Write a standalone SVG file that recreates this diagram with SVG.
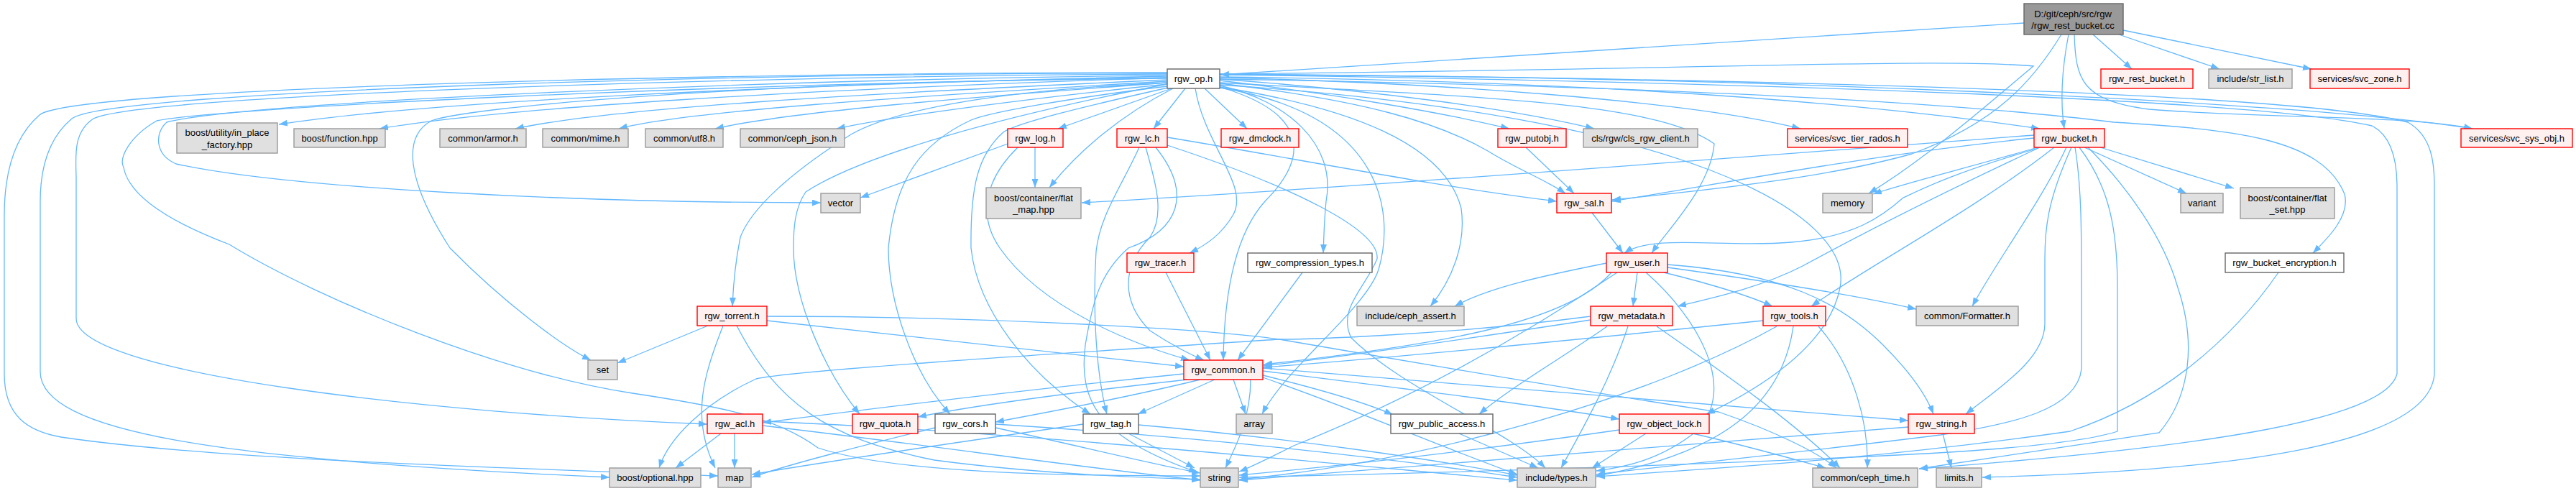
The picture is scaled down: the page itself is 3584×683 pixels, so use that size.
<svg xmlns="http://www.w3.org/2000/svg" width="3584" height="683" viewBox="0 0 3584 683">
<style>
.n rect{stroke-width:1.4}
.g rect{fill:#E0E0E0;stroke:#999999}
.r rect{fill:#FFF0F0;stroke:#FF0000}
.w rect{fill:#FFFFFF;stroke:#666666}
.k rect{fill:#999999;stroke:#666666}
text{font-family:"Liberation Sans",Arial,sans-serif;font-size:13px;text-anchor:middle;fill:#000}
.e path{fill:none;stroke:#63B8FF;stroke-width:1.3;marker-end:url(#a)}
</style>
<defs>
<marker id="a" viewBox="0 0 12 9" refX="12" refY="4.5" markerWidth="12" markerHeight="9" markerUnits="userSpaceOnUse" orient="auto"><path d="M0,0L12,4.5L0,9z" fill="#63B8FF"/></marker>
</defs>
<rect width="3584" height="683" fill="#FFFFFF"/>
<g id="connectors" class="e">
<path d="M2816,32L1698,104"/>
<path d="M2878,48C2868,100 2866,140 2872,179"/>
<path d="M2912,48L2966,96"/>
<path d="M2948,48L3088,96"/>
<path d="M2954,42L3216,96"/>
<path d="M2868,48C2830,110 2780,170 2660,214C2550,245 2400,262 2243,278"/>
<path d="M2886,48C2888,110 2895,140 2990,152C3150,165 3350,160 3440,179"/>
<path d="M1624,106C1100,118 600,140 388,173"/>
<path d="M1624,108C1100,125 700,150 528,179"/>
<path d="M1624,111C1200,130 850,150 717,179"/>
<path d="M1624,113C1250,135 950,155 861,179"/>
<path d="M1624,115C1350,135 1100,155 995,179"/>
<path d="M1624,117C1450,135 1250,160 1164,179"/>
<path d="M1630,123L1472,179"/>
<path d="M1649,123L1605,179"/>
<path d="M1676,123L1735,179"/>
<path d="M1697,112C1850,130 2000,155 2100,179"/>
<path d="M1697,110C1900,125 2100,150 2218,179"/>
<path d="M1697,108C2000,115 2350,140 2505,179"/>
<path d="M1697,107C2100,112 2500,130 2838,179"/>
<path d="M1697,104C2400,105 3200,140 3440,179"/>
<path d="M1624,105C1100,110 350,140 232,170C215,185 215,215 245,228C400,262 800,282 1142,282"/>
<path d="M1632,123C1560,160 1500,210 1460,261"/>
<path d="M1697,116C1900,140 2000,170 2070,210C2110,235 2150,250 2178,269"/>
<path d="M1697,103C2300,98 2700,80 2829,92C2760,150 2680,220 2600,269"/>
<path d="M1663,123C1675,200 1740,260 1715,300C1700,325 1680,340 1655,352"/>
<path d="M1697,119C1790,140 1860,200 1845,280C1842,310 1842,330 1841,352"/>
<path d="M1697,115C2050,135 2300,140 2385,200C2380,260 2320,320 2298,352"/>
<path d="M1697,110C2300,120 2700,140 2941,170C3100,180 3230,190 3262,270C3270,300 3240,330 3218,352"/>
<path d="M1624,115C1400,125 1250,150 1184,187C1100,240 1045,290 1030,330C1022,370 1020,400 1019,426"/>
<path d="M1624,108C1000,115 650,150 600,168C560,190 565,250 626,345C700,420 780,480 822,501"/>
<path d="M1697,121C1880,150 2010,200 2033,290C2040,340 2020,390 1990,426"/>
<path d="M1697,121C1830,160 1815,225 1760,280C1715,330 1703,420 1702,501"/>
<path d="M1624,103C1100,105 200,130 130,165C100,185 106,220 106,250L106,443C106,520 600,575 984,590"/>
<path d="M1624,117C1400,160 1200,215 1121,267C1105,290 1104,320 1104,345C1104,420 1150,520 1196,576"/>
<path d="M1624,120C1500,135 1380,155 1351,167C1280,200 1245,250 1236,345C1236,420 1270,520 1322,576"/>
<path d="M1625,122C1500,150 1420,170 1397,183C1360,215 1350,260 1351,345C1360,430 1430,520 1517,576"/>
<path d="M1697,122C1930,160 1940,300 1918,375C1900,430 1790,510 1756,576"/>
<path d="M1697,118C2350,160 2580,300 2560,400C2545,480 2450,540 2374,576"/>
<path d="M1624,102C1100,100 150,125 100,165C70,190 56,230 56,280L56,517C56,600 300,640 848,664"/>
<path d="M1624,101C1100,100 100,120 55,160C20,190 6,240 6,300L6,520C6,580 40,600 85,608C300,640 700,650 999,662"/>
<path d="M1624,109C1000,115 300,150 218,168C180,190 165,220 172,233C180,275 240,310 319,340C450,420 700,520 880,547C1000,565 1080,580 1138,623C1250,660 1500,662 1670,662"/>
<path d="M1697,103C2500,110 3200,130 3350,170C3385,190 3387,230 3387,260L3387,520C3380,620 3100,655 2758,664"/>
<path d="M1697,104C2500,115 3150,140 3300,175C3330,190 3335,230 3335,260L3335,520C3320,580 3100,620 2670,652"/>
<path d="M2830,192C2600,215 2400,255 2243,280"/>
<path d="M2830,188C2400,220 1900,260 1505,282"/>
<path d="M2835,205C2750,230 2650,255 2606,270"/>
<path d="M2900,205L3042,269"/>
<path d="M2922,205L3108,262"/>
<path d="M2836,206C2720,240 2680,260 2648,275C2620,300 2580,330 2492,337C2400,345 2300,325 2260,352"/>
<path d="M2838,205C2720,260 2600,320 2508,370C2450,400 2380,415 2334,426"/>
<path d="M2858,205C2750,290 2600,370 2520,426"/>
<path d="M2875,205C2840,280 2780,360 2744,426"/>
<path d="M2882,205C2848,280 2845,320 2845,360L2845,450C2845,500 2780,540 2735,576"/>
<path d="M2887,205C2896,260 2896,320 2896,400L2896,513C2890,570 2800,590 2700,605C2500,630 2300,650 2221,660"/>
<path d="M2893,205C2935,260 2946,320 2946,400L2946,600C2900,615 2800,625 2640,633C2300,650 1900,660 1724,664"/>
<path d="M2905,205C2960,260 3010,330 3030,400C3060,490 3040,560 3004,602L2670,652"/>
<path d="M2235,366C2150,383 2070,400 2024,426"/>
<path d="M2278,379L2272,426"/>
<path d="M2315,379C2380,395 2430,410 2466,426"/>
<path d="M2320,372C2450,390 2580,410 2666,430"/>
<path d="M2242,379C2180,450 2000,480 1758,507"/>
<path d="M2290,379C2360,440 2420,540 2360,600C2310,640 2260,650 2221,655"/>
<path d="M2250,379C2100,480 1950,560 1800,620C1760,640 1740,650 1724,656"/>
<path d="M2320,368C2480,380 2560,420 2620,480C2660,520 2680,550 2690,576"/>
<path d="M2213,445C2050,470 1900,492 1758,509"/>
<path d="M2265,454C2240,530 2200,600 2172,651"/>
<path d="M2305,454C2400,520 2500,590 2560,651"/>
<path d="M2213,440C2000,468 1800,472 1780,472C1500,490 1100,515 1052,527C980,560 930,610 917,651"/>
<path d="M2236,454C2170,500 2100,540 2058,576"/>
<path d="M2453,446C2200,472 1950,497 1758,511"/>
<path d="M2495,454C2480,560 2400,630 2221,662"/>
<path d="M2472,454C2300,550 2000,640 1724,667"/>
<path d="M2530,454C2580,510 2600,590 2598,651"/>
<path d="M1647,520C1400,545 1200,570 1061,588"/>
<path d="M1652,528C1500,545 1350,565 1277,580"/>
<path d="M1670,528C1580,550 1450,575 1385,587"/>
<path d="M1690,528L1583,576"/>
<path d="M1716,528L1733,576"/>
<path d="M1757,522C1830,540 1900,560 1938,577"/>
<path d="M1757,516C1950,540 2150,565 2253,583"/>
<path d="M1757,512C2100,540 2450,570 2655,585"/>
<path d="M1757,525C1900,575 2000,620 2111,660"/>
<path d="M1740,528C1740,580 1720,620 1705,651"/>
<path d="M1022,603L1022,651"/>
<path d="M1003,603L940,651"/>
<path d="M1061,592C1300,620 1500,650 1670,668"/>
<path d="M1061,586C1400,600 1800,640 2111,668"/>
<path d="M1301,595C1200,620 1100,645 1046,664"/>
<path d="M1385,595C1500,620 1600,645 1670,658"/>
<path d="M1385,590C1700,610 1950,640 2111,664"/>
<path d="M1507,590C1300,620 1100,650 1046,660"/>
<path d="M1570,603L1662,651"/>
<path d="M1584,591C1800,610 2000,640 2111,661"/>
<path d="M1067,446C1300,470 1500,495 1647,510"/>
<path d="M985,453L859,505"/>
<path d="M1006,453C980,520 960,580 995,651"/>
<path d="M1025,453C1080,560 1150,610 1300,640C1450,660 1600,665 1670,667"/>
<path d="M1067,440C1400,440 1700,460 1780,472C2000,510 2300,560 2391,573C2470,600 2530,630 2555,651"/>
<path d="M1402,200L1197,275"/>
<path d="M1440,205L1440,261"/>
<path d="M1416,205C1370,250 1360,300 1391,345C1450,430 1580,480 1655,501"/>
<path d="M1624,191C1800,220 2000,260 2166,280"/>
<path d="M1594,205C1610,260 1620,300 1600,330C1560,370 1560,420 1600,460C1630,480 1660,495 1675,501"/>
<path d="M1585,205C1560,260 1530,300 1525,350C1520,430 1525,520 1540,576"/>
<path d="M1608,205C1660,270 1640,320 1570,345C1530,380 1520,420 1510,480C1500,560 1530,610 1666,657"/>
<path d="M1624,202C1800,260 1920,320 1916,360C1900,400 1860,430 1880,470C1950,540 2100,600 2150,651"/>
<path d="M2123,205L2190,269"/>
<path d="M2215,296L2258,352"/>
<path d="M1622,379L1684,501"/>
<path d="M1812,379L1722,501"/>
<path d="M2030,603L2140,651"/>
<path d="M2253,598C2100,620 1900,645 1724,661"/>
<path d="M2355,603C2430,620 2500,640 2540,651"/>
<path d="M2290,603L2215,651"/>
<path d="M2703,603L2715,651"/>
<path d="M2655,594C2300,620 1950,650 1724,668"/>
<path d="M3170,379C3100,480 3000,560 2880,600C2600,640 2400,650 2221,663"/>
</g>
<g id="root" class="n k"><rect x="2816" y="5" width="138" height="43"/><text x="2884" y="24">D:/git/ceph/src/rgw</text><text x="2884" y="40">/rgw_rest_bucket.cc</text></g>
<g id="rgw_op" class="n w"><rect x="1624" y="96" width="73" height="27"/><text x="1660.5" y="114">rgw_op.h</text></g>
<g id="rgw_rest_bucket_h" class="n r"><rect x="2923" y="96" width="128" height="27"/><text x="2987" y="114">rgw_rest_bucket.h</text></g>
<g id="str_list" class="n g"><rect x="3073" y="96" width="116" height="27"/><text x="3131" y="114">include/str_list.h</text></g>
<g id="svc_zone" class="n r"><rect x="3214" y="96" width="138" height="27"/><text x="3283" y="114">services/svc_zone.h</text></g>
<g id="in_place_factory" class="n g"><rect x="246" y="171" width="140" height="42"/><text x="316" y="189">boost/utility/in_place</text><text x="316" y="206">_factory.hpp</text></g>
<g id="function" class="n g"><rect x="409" y="179" width="127" height="26"/><text x="472.5" y="197">boost/function.hpp</text></g>
<g id="armor" class="n g"><rect x="612" y="179" width="120" height="26"/><text x="672" y="197">common/armor.h</text></g>
<g id="mime" class="n g"><rect x="755" y="179" width="119" height="26"/><text x="814.5" y="197">common/mime.h</text></g>
<g id="utf8" class="n g"><rect x="898" y="179" width="108" height="26"/><text x="952" y="197">common/utf8.h</text></g>
<g id="ceph_json" class="n g"><rect x="1030" y="179" width="145" height="26"/><text x="1102.5" y="197">common/ceph_json.h</text></g>
<g id="rgw_log" class="n r"><rect x="1402" y="179" width="77" height="26"/><text x="1440.5" y="197">rgw_log.h</text></g>
<g id="rgw_lc" class="n r"><rect x="1554" y="179" width="70" height="26"/><text x="1589" y="197">rgw_lc.h</text></g>
<g id="rgw_dmclock" class="n r"><rect x="1699" y="179" width="108" height="26"/><text x="1753" y="197">rgw_dmclock.h</text></g>
<g id="rgw_putobj" class="n r"><rect x="2084" y="179" width="95" height="26"/><text x="2131.5" y="197">rgw_putobj.h</text></g>
<g id="cls_rgw_client" class="n g"><rect x="2203" y="179" width="159" height="26"/><text x="2282.5" y="197">cls/rgw/cls_rgw_client.h</text></g>
<g id="svc_tier_rados" class="n r"><rect x="2487" y="179" width="167" height="26"/><text x="2570.5" y="197">services/svc_tier_rados.h</text></g>
<g id="rgw_bucket" class="n r"><rect x="2830" y="179" width="98" height="26"/><text x="2879" y="197">rgw_bucket.h</text></g>
<g id="svc_sys_obj" class="n r"><rect x="3424" y="179" width="155" height="26"/><text x="3501.5" y="197">services/svc_sys_obj.h</text></g>
<g id="vector" class="n g"><rect x="1142" y="269" width="55" height="27"/><text x="1169.5" y="287">vector</text></g>
<g id="flat_map" class="n g"><rect x="1372" y="261" width="132" height="43"/><text x="1438" y="280">boost/container/flat</text><text x="1438" y="296">_map.hpp</text></g>
<g id="rgw_sal" class="n r"><rect x="2166" y="269" width="76" height="27"/><text x="2204" y="287">rgw_sal.h</text></g>
<g id="memory" class="n g"><rect x="2536" y="269" width="69" height="27"/><text x="2570.5" y="287">memory</text></g>
<g id="variant" class="n g"><rect x="3034" y="269" width="59" height="27"/><text x="3063.5" y="287">variant</text></g>
<g id="flat_set" class="n g"><rect x="3117" y="261" width="131" height="43"/><text x="3182.5" y="280">boost/container/flat</text><text x="3182.5" y="296">_set.hpp</text></g>
<g id="rgw_tracer" class="n r"><rect x="1568" y="352" width="93" height="27"/><text x="1614.5" y="370">rgw_tracer.h</text></g>
<g id="rgw_compression_types" class="n w"><rect x="1736" y="352" width="173" height="27"/><text x="1822.5" y="370">rgw_compression_types.h</text></g>
<g id="rgw_user" class="n r"><rect x="2235" y="352" width="85" height="27"/><text x="2277.5" y="370">rgw_user.h</text></g>
<g id="rgw_bucket_encryption" class="n w"><rect x="3096" y="352" width="165" height="27"/><text x="3178.5" y="370">rgw_bucket_encryption.h</text></g>
<g id="rgw_torrent" class="n r"><rect x="970" y="426" width="97" height="27"/><text x="1018.5" y="444">rgw_torrent.h</text></g>
<g id="ceph_assert" class="n g"><rect x="1888" y="426" width="149" height="27"/><text x="1962.5" y="444">include/ceph_assert.h</text></g>
<g id="rgw_metadata" class="n r"><rect x="2213" y="426" width="114" height="27"/><text x="2270" y="444">rgw_metadata.h</text></g>
<g id="rgw_tools" class="n r"><rect x="2453" y="426" width="87" height="27"/><text x="2496.5" y="444">rgw_tools.h</text></g>
<g id="formatter" class="n g"><rect x="2666" y="426" width="142" height="27"/><text x="2737" y="444">common/Formatter.h</text></g>
<g id="set" class="n g"><rect x="818" y="501" width="41" height="27"/><text x="838.5" y="519">set</text></g>
<g id="rgw_common" class="n r"><rect x="1647" y="501" width="110" height="27"/><text x="1702" y="519">rgw_common.h</text></g>
<g id="rgw_acl" class="n r"><rect x="984" y="576" width="77" height="27"/><text x="1022.5" y="594">rgw_acl.h</text></g>
<g id="rgw_quota" class="n r"><rect x="1186" y="576" width="91" height="27"/><text x="1231.5" y="594">rgw_quota.h</text></g>
<g id="rgw_cors" class="n w"><rect x="1301" y="576" width="84" height="27"/><text x="1343" y="594">rgw_cors.h</text></g>
<g id="rgw_tag" class="n w"><rect x="1507" y="576" width="77" height="27"/><text x="1545.5" y="594">rgw_tag.h</text></g>
<g id="array" class="n g"><rect x="1720" y="576" width="50" height="27"/><text x="1745" y="594">array</text></g>
<g id="rgw_public_access" class="n w"><rect x="1935" y="576" width="142" height="27"/><text x="2006" y="594">rgw_public_access.h</text></g>
<g id="rgw_object_lock" class="n r"><rect x="2253" y="576" width="125" height="27"/><text x="2315.5" y="594">rgw_object_lock.h</text></g>
<g id="rgw_string" class="n r"><rect x="2655" y="576" width="92" height="27"/><text x="2701" y="594">rgw_string.h</text></g>
<g id="optional" class="n g"><rect x="848" y="651" width="127" height="27"/><text x="911.5" y="669">boost/optional.hpp</text></g>
<g id="map" class="n g"><rect x="999" y="651" width="46" height="27"/><text x="1022" y="669">map</text></g>
<g id="string" class="n g"><rect x="1670" y="651" width="53" height="27"/><text x="1696.5" y="669">string</text></g>
<g id="types" class="n g"><rect x="2111" y="651" width="109" height="27"/><text x="2165.5" y="669">include/types.h</text></g>
<g id="ceph_time" class="n g"><rect x="2522" y="651" width="146" height="27"/><text x="2595" y="669">common/ceph_time.h</text></g>
<g id="limits" class="n g"><rect x="2694" y="651" width="63" height="27"/><text x="2725.5" y="669">limits.h</text></g>
</svg>
